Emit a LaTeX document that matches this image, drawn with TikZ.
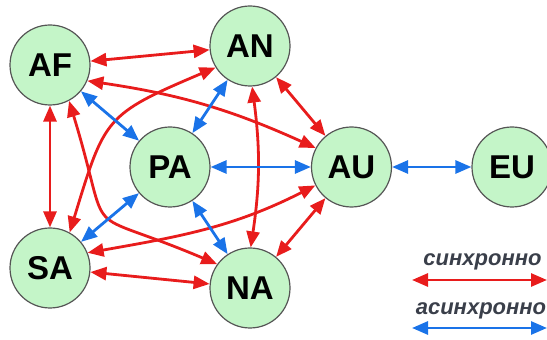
\documentclass[tikz,border=0pt]{standalone}
\usepackage{fontspec}
\setmainfont{Liberation Sans}
\usetikzlibrary{arrows.meta}

\definecolor{syncred}{RGB}{232,28,28}
\definecolor{asyncblue}{RGB}{26,115,232}
\definecolor{nodefill}{RGB}{196,245,200}
\definecolor{nodeline}{RGB}{85,85,85}
\definecolor{legendtext}{RGB}{58,63,74}

\tikzset{
  region/.style={circle, draw=nodeline, line width=1.2pt, fill=nodefill,
    minimum size=80pt, inner sep=0pt,
    font=\bfseries\fontsize{33}{33}\selectfont},
  link/.style={line width=2.8pt, {Triangle[length=16pt,width=13pt]}-{Triangle[length=16pt,width=13pt]}},
  sync/.style={link, draw=syncred},
  async/.style={link, draw=asyncblue},
  legendlabel/.style={anchor=base, text=legendtext,
    font=\bfseries\itshape\fontsize{22}{22}\selectfont}
}

\begin{document}
\begin{tikzpicture}[x=1pt,y=1pt]
  \useasboundingbox (0,0) rectangle (547,340);

  % regions
  \node[region] (AF) at (50,275) {AF};
  \node[region] (AN) at (250,294) {AN};
  \node[region] (PA) at (170,173) {PA};
  \node[region] (AU) at (351.5,173) {AU};
  \node[region] (EU) at (512,173) {EU};
  \node[region] (SA) at (50,72) {SA};
  \node[region] (NA) at (250,52) {NA};

  % synchronous links
  \draw[sync] (AF) -- (AN);
  \draw[sync] (AF) -- (SA);
  \draw[sync] (SA) -- (NA);
  \draw[sync] (AN) -- (AU);
  \draw[sync] (AU) -- (NA);
  \draw[sync] (AF.-23) to[bend left=8] (AU.152);
  \draw[sync] (AF.-62) to[out=-73, in=157, looseness=1.8] (NA.144);
  \draw[sync] (SA.61) to[out=73, in=-157, looseness=1.4] (AN.212);
  \draw[sync] (SA.22) to[out=10, in=207] (AU.207);
  \draw[sync] (AN.-87) to[bend left=8] (NA.89);

  % asynchronous links
  \draw[async] (AF) -- (PA);
  \draw[async] (AN) -- (PA);
  \draw[async] (PA) -- (AU);
  \draw[async] (PA) -- (SA);
  \draw[async] (PA) -- (NA);
  \draw[async] (AU) -- (EU);

  % legend
  \node[legendlabel] (lsync) at (482.5,74) {синхронно};
  \coordinate (ls1) at (412,60);
  \coordinate (ls2) at (547,60);
  \draw[sync] (ls1) -- (ls2);
  \node[legendlabel] (lasync) at (481,25) {асинхронно};
  \coordinate (la1) at (412,12);
  \coordinate (la2) at (547,12);
  \draw[async] (la1) -- (la2);
\end{tikzpicture}
\end{document}
